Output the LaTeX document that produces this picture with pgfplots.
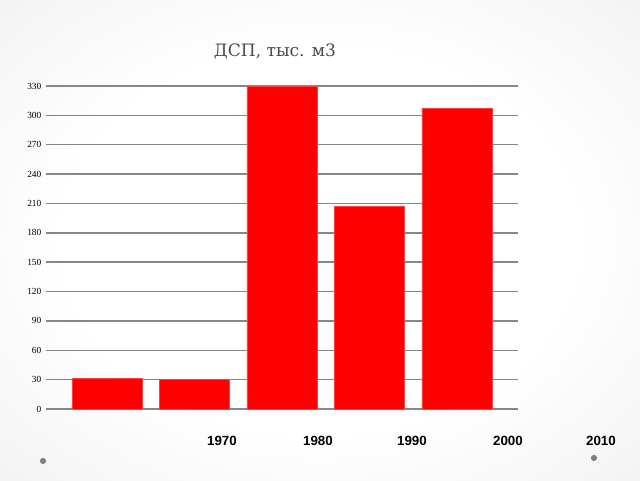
\documentclass[border=0pt]{standalone}
\usepackage{pgfplots}
\pgfplotsset{compat=1.18}
\usepackage{fontspec}
\setmainfont{Liberation Serif}
\newfontfamily\labelfont{Liberation Sans}
\newfontfamily\titlefont{DejaVu Serif}

\definecolor{gridgray}{RGB}{135,135,135}
\definecolor{titlegray}{RGB}{75,75,75}
\definecolor{bgmid}{RGB}{232,232,232}
\definecolor{bggray}{RGB}{210,210,210}
\definecolor{dotgray}{RGB}{128,128,128}

\pgfdeclareradialshading{slide}{\pgfpoint{0bp}{0bp}}{%
  color(0bp)=(white); color(20bp)=(white); color(50bp)=(bgmid); color(71bp)=(bggray); color(80bp)=(bggray)}

\begin{document}
\begin{tikzpicture}
% slide background, 640x480 px at 0.75pt per px
\shade[shading=slide] (0,0) rectangle (480pt,360pt);
\fill[dotgray] (32.25pt,14.25pt) circle (2.3pt);
\fill[dotgray] (445.5pt,16.5pt) circle (2.3pt);

\begin{axis}[
  at={(34.5pt,53.25pt)}, anchor=south west,
  scale only axis,
  width=354pt, height=242.25pt,
  ybar, bar width=52.5pt,
  xmin=-0.7, xmax=4.7,
  ymin=0, ymax=330,
  ytick={0,30,...,330},
  xtick=\empty,
  axis line style={draw=none},
  major tick length=0pt,
  ymajorgrids=true,
  major grid style={gridgray, line width=1.1pt},
  clip=false,
  yticklabel style={font=\fontsize{7}{8}\selectfont, text=black},
  /pgf/number format/assume math mode=true,
]
\addplot[fill=red, draw=red!75!white, line width=0.4pt] coordinates {
(0,31) (1,30) (2,330) (3,207) (4,307)
};
\end{axis}

\node[titlegray, font=\titlefont\fontsize{12.8}{15}\selectfont] at (206.25pt,321pt) {ДСП, тыс. м3};
\node[font=\labelfont\bfseries\fontsize{10}{12}\selectfont] at (166.5pt,29.25pt) {1970};
\node[font=\labelfont\bfseries\fontsize{10}{12}\selectfont] at (238.5pt,29.25pt) {1980};
\node[font=\labelfont\bfseries\fontsize{10}{12}\selectfont] at (309pt,29.25pt) {1990};
\node[font=\labelfont\bfseries\fontsize{10}{12}\selectfont] at (381pt,29.25pt) {2000};
\node[font=\labelfont\bfseries\fontsize{10}{12}\selectfont] at (450.75pt,29.25pt) {2010};
\end{tikzpicture}
\end{document}
